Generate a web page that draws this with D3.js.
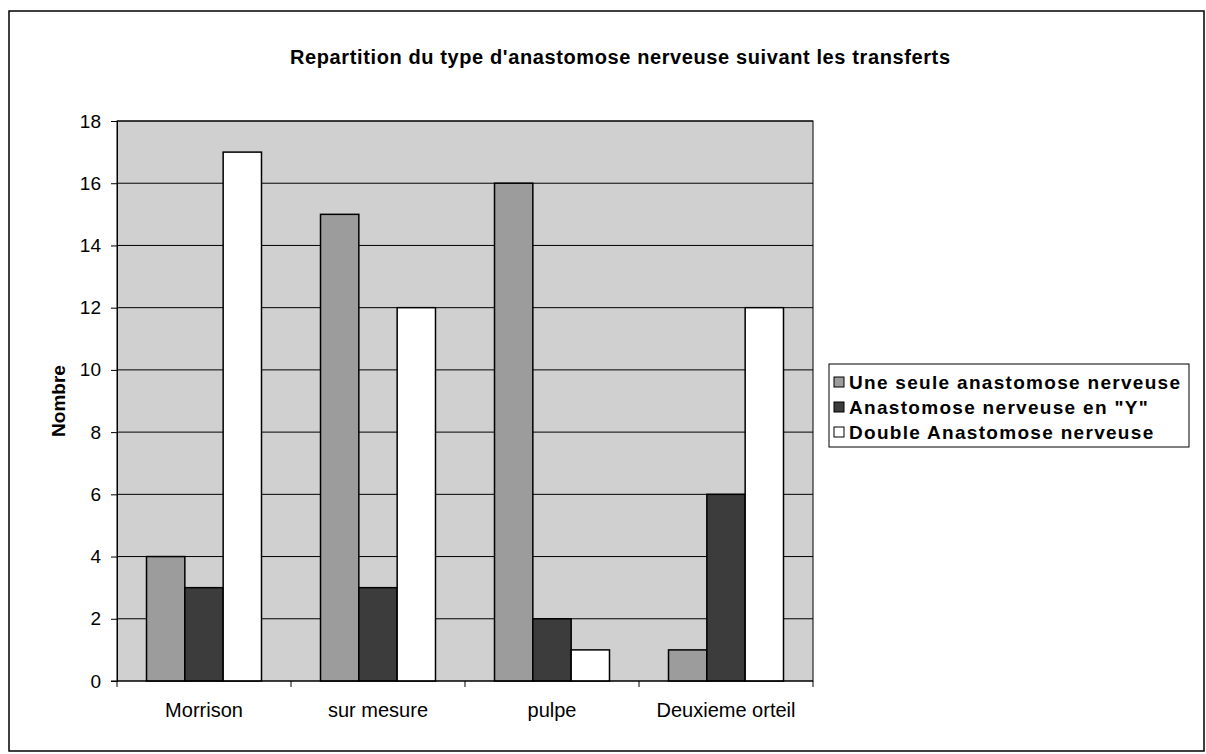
<!DOCTYPE html>
<html><head><meta charset="utf-8">
<script src="https://cdn.jsdelivr.net/npm/d3@7"></script>
<style>body{margin:0;background:#fff}svg{display:block}text{font-family:"Liberation Sans",Arial,sans-serif;fill:#000}</style>
</head><body>
<svg id="c" width="1206" height="754"></svg>
<script>
const categories = ["Morrison", "sur mesure", "pulpe", "Deuxieme orteil"];
const seriesNames = ["Une seule anastomose nerveuse", "Anastomose nerveuse en \"Y\"", "Double Anastomose nerveuse"];
const uneSeule = [4, 15, 16, 1];
const enY = [3, 3, 2, 6];
const double = [17, 12, 1, 12];
const yTicks = [0, 2, 4, 6, 8, 10, 12, 14, 16, 18];
const title = "Repartition du type d'anastomose nerveuse suivant les transferts";
const yLabel = "Nombre";

const series = [uneSeule, enY, double];
const colors = ["#9c9c9c", "#3c3c3c", "#ffffff"];

const svg = d3.select("#c");
const m = {l: 117, r: 813, t: 121, b: 681};

// outer border
svg.append("rect").attr("x", 9).attr("y", 11).attr("width", 1195).attr("height", 740)
  .attr("fill", "none").attr("stroke", "#000").attr("stroke-width", 1.5);

svg.append("text").attr("x", 620).attr("y", 64).attr("text-anchor", "middle")
  .attr("font-size", 20).attr("font-weight", "bold").attr("textLength", 660).text(title);

const x = d3.scaleBand().domain(categories).range([m.l, m.r]);
const xs = d3.scaleBand().domain(d3.range(series.length)).range([0, x.bandwidth()]).paddingOuter(0.77).paddingInner(0);
const y = d3.scaleLinear().domain([0, 18]).range([m.b, m.t]);

// plot background
svg.append("rect").attr("x", m.l).attr("y", m.t).attr("width", m.r - m.l).attr("height", m.b - m.t)
  .attr("fill", "#d0d0d0").attr("stroke", "#000").attr("stroke-width", 1);

// gridlines
svg.append("g").selectAll("line").data(yTicks.filter(d => d > 0)).join("line")
  .attr("x1", m.l).attr("x2", m.r).attr("y1", d => y(d)).attr("y2", d => y(d))
  .attr("stroke", "#000").attr("stroke-width", 1);

// bars
const g = svg.append("g");
categories.forEach((c, i) => {
  series.forEach((s, j) => {
    g.append("rect")
      .attr("x", x(c) + xs(j)).attr("width", xs.bandwidth())
      .attr("y", y(s[i])).attr("height", y(0) - y(s[i]))
      .attr("fill", colors[j]).attr("stroke", "#000").attr("stroke-width", 1.5);
  });
});

// y axis
const ya = svg.append("g").attr("transform", `translate(${m.l},0)`)
  .call(d3.axisLeft(y).tickValues(yTicks).tickSize(6).tickPadding(10));
ya.select(".domain").attr("stroke", "#000");
ya.selectAll("text").attr("font-size", 19).attr("font-family", "Liberation Sans, Arial, sans-serif");

// x axis
const xa = svg.append("g").attr("transform", `translate(0,${m.b})`);
xa.append("line").attr("x1", m.l - 6).attr("x2", m.r).attr("stroke", "#000");
const bounds = categories.map(c => x(c)).concat([m.r]);
xa.selectAll(".tk").data(bounds).join("line").attr("class", "tk")
  .attr("x1", d => d).attr("x2", d => d).attr("y1", 0).attr("y2", 6).attr("stroke", "#000");
xa.selectAll(".lb").data(categories).join("text").attr("class", "lb")
  .attr("x", d => x(d) + x.bandwidth() / 2).attr("y", 36).attr("text-anchor", "middle")
  .attr("font-size", 20).text(d => d);

svg.append("text").attr("transform", "translate(65,401) rotate(-90)").attr("text-anchor", "middle")
  .attr("font-size", 19).attr("font-weight", "bold").text(yLabel);

// legend
const lg = svg.append("g");
lg.append("rect").attr("x", 829).attr("y", 364).attr("width", 360).attr("height", 83)
  .attr("fill", "#fff").attr("stroke", "#000").attr("stroke-width", 1);
seriesNames.forEach((n, j) => {
  const yy = 382 + j * 25;
  lg.append("rect").attr("x", 834).attr("y", yy - 5).attr("width", 10).attr("height", 10)
    .attr("fill", colors[j]).attr("stroke", "#000").attr("stroke-width", 1);
  lg.append("text").attr("x", 849).attr("y", yy + 7).attr("font-size", 19).attr("font-weight", "bold")
    .attr("letter-spacing", 1.3).text(n);
});
</script>
</body></html>
